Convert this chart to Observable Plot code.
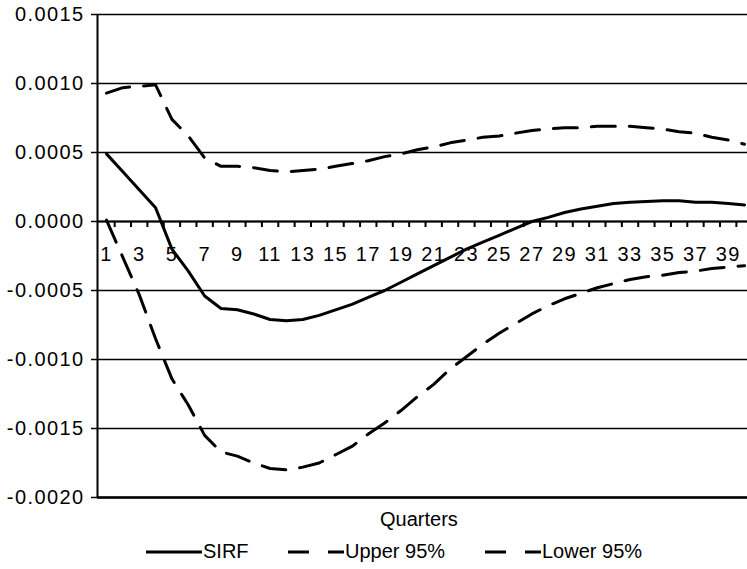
<!DOCTYPE html>
<html>
<head>
<meta charset="utf-8">
<script src="https://cdn.jsdelivr.net/npm/d3@7"></script>
<script src="https://cdn.jsdelivr.net/npm/@observablehq/plot@0.6"></script>
<style>
  html, body { margin: 0; padding: 0; background: white; }
  #wrap { position: relative; width: 747px; height: 569px; font-family: "Liberation Sans", Arial, sans-serif; color: black; }
  #chart { position: absolute; left: 0; top: 0; }
  .lbl { position: absolute; font-size: 20px; line-height: 23px; white-space: nowrap; }
  .item { position: absolute; display: flex; align-items: center; font-size: 20px; line-height: 23px; white-space: nowrap; }
  .item svg { display: block; }
</style>
</head>
<body>
<div id="wrap">
  <div id="chart"></div>
  <div class="lbl" id="xtitle" style="left:380px; top:508px;"></div>
  <div id="legend"></div>
</div>
<script>
// ---- data ----
const quarters = [1,2,3,4,5,6,7,8,9,10,11,12,13,14,15,16,17,18,19,20,21,22,23,24,25,26,27,28,29,30,31,32,33,34,35,36,37,38,39,40];
const sirf  = [0.00049,0.00036,0.00023,0.00010,-0.00020,-0.00036,-0.00054,-0.00063,-0.00064,-0.00067,-0.00071,-0.00072,-0.00071,-0.00068,-0.00064,-0.00060,-0.00055,-0.00050,-0.00044,-0.00038,-0.00032,-0.00026,-0.00020,-0.00015,-0.00010,-0.00005,0.00000,0.00003,0.000065,0.00009,0.00011,0.00013,0.00014,0.000145,0.00015,0.00015,0.00014,0.00014,0.00013,0.00012];
const upper = [0.00093,0.00097,0.00098,0.00099,0.00074,0.00062,0.00046,0.00040,0.00040,0.00039,0.00037,0.00036,0.00037,0.00038,0.00040,0.00042,0.00044,0.00047,0.00049,0.00052,0.00054,0.00057,0.00059,0.00061,0.00062,0.00064,0.00066,0.00067,0.00068,0.00068,0.00069,0.00069,0.00069,0.00068,0.00067,0.00065,0.00064,0.00061,0.00059,0.00056];
const lower = [0.00001,-0.00026,-0.00053,-0.00085,-0.00114,-0.00133,-0.00155,-0.00167,-0.00170,-0.00175,-0.00179,-0.00180,-0.00178,-0.00175,-0.00169,-0.00163,-0.00154,-0.00146,-0.00137,-0.00127,-0.00118,-0.00107,-0.00098,-0.00089,-0.00081,-0.00074,-0.00067,-0.00061,-0.00056,-0.00052,-0.00048,-0.00045,-0.00042,-0.00040,-0.00039,-0.00037,-0.00036,-0.00034,-0.00033,-0.00032];
const yTicks = [-0.0020,-0.0015,-0.0010,-0.0005,0.0000,0.0005,0.0010,0.0015];
const xLabels = [1,3,5,7,9,11,13,15,17,19,21,23,25,27,29,31,33,35,37,39];
const xTickMarks = [1.5,2.5,3.5,4.5,5.5,6.5,7.5,8.5,9.5,10.5,11.5,12.5,13.5,14.5,15.5,16.5,17.5,18.5,19.5,20.5,21.5,22.5,23.5,24.5,25.5,26.5,27.5,28.5,29.5,30.5,31.5,32.5,33.5,34.5,35.5,36.5,37.5,38.5,39.5];
const seriesNames = ["SIRF","Upper 95%","Lower 95%"];
const xTitle = "Quarters";

// ---- build table ----
const rows = [];
[sirf, upper, lower].forEach((arr, si) => arr.forEach((v, i) => rows.push({q: quarters[i], v, s: seriesNames[si]})));

const W = 747, H = 505, mT = 14, mB = 8, mL = 97, mR = 0;
const xDomain = [0.45, 40.18];
const yDomain = [-0.0020, 0.0015];
const fmt = d => (d < 0 ? "-" : "") + Math.abs(d).toFixed(4);
// tick mark length (6 px) expressed in y-data units from the layout
const tickLen = (yDomain[1] - yDomain[0]) / (H - mT - mB) * 6;

const chart = Plot.plot({
  width: W,
  height: H,
  marginLeft: mL,
  marginRight: mR,
  marginTop: mT,
  marginBottom: mB,
  style: { fontFamily: "'Liberation Sans', Arial, sans-serif", fontSize: "20px", color: "black", background: "white", letterSpacing: "1.4px", overflow: "visible" },
  x: { domain: xDomain, axis: null },
  y: { domain: yDomain, axis: null },
  marks: [
    Plot.ruleY(yTicks, { stroke: "black", strokeWidth: 1.5 }),
    Plot.ruleY([0], { stroke: "black", strokeWidth: 2 }),
    Plot.ruleY([yDomain[0]], { stroke: "black", strokeWidth: 2.5 }),
    Plot.ruleX([xDomain[0]], { y1: yDomain[0], y2: yDomain[1], stroke: "black", strokeWidth: 2 }),
    Plot.axisY({ ticks: yTicks, tickFormat: fmt, tickSize: 6, tickPadding: 7, label: null, stroke: "black", strokeWidth: 1.5, fill: "black" }),
    Plot.ruleX(xTickMarks, { x: d => d, y1: () => 0, y2: () => -tickLen, stroke: "black", strokeWidth: 2 }),
    Plot.text(xLabels, { x: d => d, y: () => 0, text: d => String(d), dy: 33, fill: "black", fontSize: 20 }),
    Plot.line(rows.filter(d => d.s === "SIRF"), { x: "q", y: "v", stroke: "black", strokeWidth: 3 }),
    Plot.line(rows.filter(d => d.s === "Upper 95%"), { x: "q", y: "v", stroke: "black", strokeWidth: 3, strokeDasharray: "24,14" }),
    Plot.line(rows.filter(d => d.s === "Lower 95%"), { x: "q", y: "v", stroke: "black", strokeWidth: 3, strokeDasharray: "24,14" })
  ]
});
document.getElementById("chart").appendChild(chart);
document.getElementById("xtitle").textContent = xTitle;

// ---- legend ----
const legend = document.getElementById("legend");
const legendLeft = [146, 288, 485];
const dashes = [null, "21,19", "21,19"];
seriesNames.forEach((name, i) => {
  const item = document.createElement("div");
  item.className = "item";
  item.style.left = legendLeft[i] + "px";
  item.style.top = "540px";
  const dash = dashes[i] ? ` stroke-dasharray="${dashes[i]}"` : "";
  item.innerHTML = `<svg width="56" height="10"><line x1="0" y1="5" x2="56" y2="5" stroke="black" stroke-width="3"${dash}/></svg><span style="margin-left:1px">${name}</span>`;
  legend.appendChild(item);
});
</script>
</body>
</html>
